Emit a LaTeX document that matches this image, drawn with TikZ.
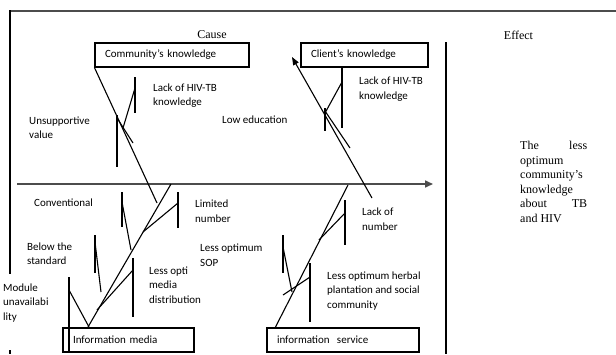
\documentclass[tikz,border=0pt]{standalone}
\usepackage{fontspec}
\setmainfont{Carlito}
\newfontfamily\tnr{Liberation Serif}
\usetikzlibrary{arrows.meta}
\begin{document}
\begin{tikzpicture}[x=1pt,y=-1pt,
  lbl/.style={font=\fontsize{11}{14.5}\selectfont, align=left, anchor=west, inner sep=0pt},
  ttl/.style={font=\tnr\fontsize{12}{14.5}\selectfont, inner sep=0pt},
  box/.style={draw, line width=1.1pt, minimum height=24pt, inner xsep=10pt, inner ysep=0pt, align=left, font=\fontsize{11}{13}\selectfont},
  bone/.style={line width=1.1pt},
  frameline/.style={line width=1.8pt},
]
\useasboundingbox (0,0) rectangle (616,354);
% frame
\draw[frameline, draw=black!70] (10,11) -- (616,11);
\draw[frameline] (10,10) -- (10,274);
\draw[frameline] (10,350) -- (10,354);
\draw[frameline] (446,42) -- (446,354);
% titles
\node[ttl] (cause) at (212,35) {Cause};
\node[ttl] (effect) at (518.5,35) {Effect};
% boxes
\node[box, text width=134pt] (comm) at (172,55) {Community’s knowledge};
\node[box, text width=107pt] (client) at (364.5,55) {Client’s knowledge};
\node[box, text width=111pt] (media) at (128.5,340) {Information media};
\node[box, text width=132pt] (serv) at (343,340) {information\ \ service};
% main axis
\coordinate (axs) at (17,184);
\coordinate (axe) at (433,184);
\draw[line width=1.6pt, draw=black!70, -{Triangle[length=8pt,width=7pt]}] (axs) -- (axe);
% community bone
\coordinate (cbEnd) at (157,203);
\draw[bone] (comm.south west) -- (cbEnd);
\draw[bone] (135,77) -- (135,113);
\draw[bone] (135,88) -- (123,128);
\draw[bone] (117,115) -- (117,167);
\draw[bone] (117,118) -- (133,143);
% client bone
\coordinate (clTip) at (292,57);
\coordinate (clEnd) at (372,198);
\draw[bone, -{Triangle[length=8pt,width=6pt]}] (clEnd) -- (clTip);
\draw[bone] (342,68) -- (342,128);
\draw[bone] (342,82) -- (325,113);
\draw[bone] (325,108) -- (325,131);
\draw[bone] (325,111) -- (350,148);
% information media bone
\coordinate (imTop) at (171,184);
\coordinate (imBot) at (88,327);
\draw[bone] (imBot) -- (imTop);
\draw[bone] (178,192) -- (178,228);
\draw[bone] (178,203) -- (143,232);
\draw[bone] (122,192) -- (122,227);
\draw[bone] (122,202) -- (131,250);
\draw[bone] (133,258) -- (133,317);
\draw[bone] (133,270) -- (97,310);
\draw[bone] (95,235) -- (95,273);
\draw[bone] (95,242) -- (101,292);
\draw[bone] (69,277) -- (69,352);
\draw[bone] (69,290) -- (89,327);
% information service bone
\coordinate (isTop) at (348,185);
\coordinate (isBot) at (275,328);
\draw[bone] (isBot) -- (isTop);
\draw[bone] (345,200) -- (345,245);
\draw[bone] (345,213) -- (319,240);
\draw[bone] (283,235) -- (283,273);
\draw[bone] (283,247) -- (292,292);
\draw[bone] (310,263) -- (310,322);
\draw[bone] (310,277) -- (283,295);
% labels
\node[lbl] (l1) at (153,95.5) {Lack of HIV-TB\\knowledge};
\node[lbl] (l2) at (29,127.5) {Unsupportive\\value};
\node[lbl] (l3) at (222,120) {Low education};
\node[lbl] (l4) at (359,89) {Lack of HIV-TB\\knowledge};
\node[lbl] (l5) at (34,203) {Conventional};
\node[lbl] (l6) at (195,211) {Limited\\number};
\node[lbl] (l7) at (27,253.5) {Below the\\standard};
\node[lbl] (l8) at (200,255) {Less optimum\\SOP};
\node[lbl] (l9) at (149,285) {Less opti\\media\\distribution};
\node[lbl] (l10) at (3,303) {Module\\unavailabi\\lity};
\node[lbl] (l11) at (362,219) {Lack of\\number};
\node[lbl] (l12) at (327,291) {Less optimum herbal\\plantation and social\\community};
% effect text
\node[ttl, align=left, anchor=west] (eff) at (520,182) {\makebox[67pt][s]{The less}\\optimum\\community’s\\knowledge\\\makebox[67pt][s]{about TB}\\and HIV};
\end{tikzpicture}
\end{document}
